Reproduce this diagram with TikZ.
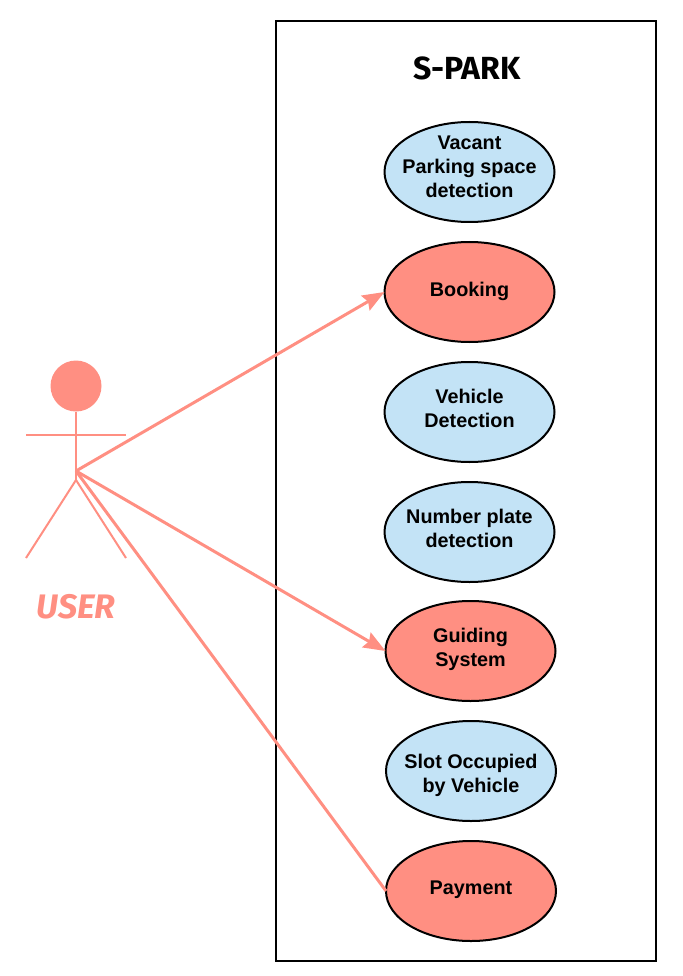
\documentclass[tikz,border=0pt]{standalone}
\usepackage{fontspec}
\setmainfont{Liberation Sans}
\newfontfamily\comicfont{Fira Sans}
\usetikzlibrary{shapes.geometric,arrows.meta}
\definecolor{salmon}{HTML}{FF8F82}
\definecolor{paleblue}{HTML}{C3E3F6}
\tikzset{
  x=1pt,y=-1pt,
  case/.style={ellipse,draw=black,line width=2pt,minimum width=170pt,minimum height=100pt,inner sep=0pt,outer sep=0pt},
  usecase/.style={case,fill=paleblue},
  paidcase/.style={case,fill=salmon},
  casetext/.style={font=\fontsize{19.8}{24}\selectfont\bfseries,align=center,inner sep=0pt},
  limb/.style={draw=salmon,line width=2pt},
  link/.style={draw=salmon,line width=3pt},
  linktip/.style={link,-{Stealth[length=22pt 0 0,width=17pt 0 0,inset=3pt 0 0,fill=salmon]}},
}
\begin{document}
\begin{tikzpicture}
\useasboundingbox (0,0) rectangle (682,976);
\node[draw=black,line width=2pt,outer sep=0pt,minimum width=380pt,minimum height=940pt,inner sep=0pt,anchor=north west] (frame) at (276,21) {};
\node[font=\comicfont\fontsize{32}{32}\selectfont\bfseries,inner sep=0pt] (title) at (467,68) {S-PARK};
\node[usecase,label={[casetext,yshift=5pt]center:Vacant\\Parking space\\detection}] (vacant) at (469.5,172) {};
\node[paidcase,label={[casetext,yshift=1pt]center:Booking}] (booking) at (469.5,292) {};
\node[usecase,label={[casetext,yshift=4pt]center:Vehicle\\Detection}] (vehicle) at (469.5,412) {};
\node[usecase,label={[casetext,yshift=4pt]center:Number plate\\detection}] (plate) at (469.5,532) {};
\node[paidcase,label={[casetext,yshift=2pt]center:Guiding\\System}] (guiding) at (470.5,651) {};
\node[usecase,label={[casetext,yshift=-4pt]center:Slot Occupied\\by Vehicle}] (slot) at (471,771) {};
\node[paidcase,label={[casetext,yshift=1pt]center:Payment}] (payment) at (471,891) {};
% actor
\node[circle,fill=salmon,minimum size=51pt,inner sep=0pt,outer sep=0pt] (head) at (76,386) {};
\coordinate (hub) at (76,471);
\coordinate (hip) at (76,480);
\coordinate (armL) at (26,435);
\coordinate (armR) at (126,435);
\coordinate (legL) at (26,558);
\coordinate (legR) at (126,558);
\draw[limb] (head.south) -- (hip);
\draw[limb] (armL) -- (armR);
\draw[limb] (legL) -- (hip) -- (legR);
\node[font=\comicfont\fontsize{34}{34}\selectfont\bfseries\itshape,text=salmon,inner sep=0pt] (user) at (76,607) {USER};
% connectors
\draw[linktip] (hub) -- (booking.west);
\draw[linktip] (hub) -- (guiding.west);
\draw[link] (hub) -- (payment.west);
\end{tikzpicture}
\end{document}
